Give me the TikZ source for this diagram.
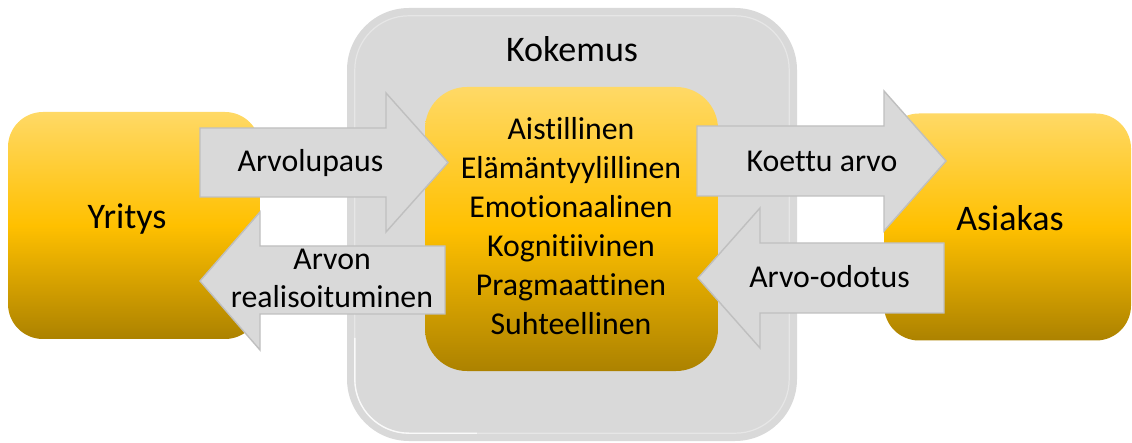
\documentclass[tikz,border=0pt]{standalone}
\usepackage{fontspec}
\setmainfont{Carlito}[Ligatures=NoCommon]
\definecolor{goldtop}{RGB}{255,217,102}
\definecolor{goldmid}{RGB}{255,192,0}
\definecolor{goldbot}{RGB}{172,130,0}
\definecolor{panel}{RGB}{217,217,217}
\definecolor{arrowfill}{RGB}{217,217,217}
\definecolor{arrowline}{RGB}{191,191,191}
\pgfdeclareverticalshading{goldshade}{100bp}{color(0bp)=(goldbot); color(25bp)=(goldbot); color(50bp)=(goldmid); color(75bp)=(goldtop); color(100bp)=(goldtop)}
\tikzset{
  goldbox/.style={rectangle, shading=goldshade, draw=none, inner sep=0pt},
  panelbox/.style={rectangle, fill=panel, draw=none, rounded corners=62pt, inner sep=0pt},
  blockarrow/.style={fill=arrowfill, draw=arrowline, line width=1.4pt, line join=miter},
  bigtext/.style={font=\fontsize{36}{43}\selectfont, anchor=base},
  lbltext/.style={font=\fontsize{31.8}{39}\selectfont, anchor=base},
}
\begin{document}
\begin{tikzpicture}[x=1pt,y=-1pt]
\useasboundingbox (0,0) rectangle (1132,443);
% big panel
\node[panelbox, minimum width=450pt, minimum height=433pt] (panel) at (572,224.5) {};
\draw[white, opacity=0.35, line width=1.2pt, rounded corners=54pt]
  ([shift={(8,8)}]panel.north west) rectangle ([shift={(-8,-8)}]panel.south east);
\draw[white, opacity=0.8, line width=1.4pt, rounded corners=54pt]
  ([shift={(8,330)}]panel.north west) -- ([shift={(8,-8)}]panel.south west) -- ([shift={(130,-8)}]panel.south west);
\node[bigtext] (kokemus) at (572,62) {Kokemus};
% side boxes
\node[goldbox, rounded corners=35pt, minimum width=252pt, minimum height=227pt] (yritys) at (134,225.5) {};
\node[goldbox, rounded corners=35pt, minimum width=247pt, minimum height=227pt] (asiakas) at (1007.5,227) {};
\node[bigtext] (yritysT) at (127,229) {Yritys};
\node[bigtext] (asiakasT) at (1010,231) {Asiakas};
% inner box
\node[goldbox, rounded corners=42pt, minimum width=293pt, minimum height=284pt] (inner) at (571.5,229) {};
\node[lbltext] (l1) at (571,140) {Aistillinen};
\node[lbltext] (l2) at (571,179) {Elämäntyylillinen};
\node[lbltext] (l3) at (571,218) {Emotionaalinen};
\node[lbltext] (l4) at (571,257) {Kognitiivinen};
\node[lbltext] (l5) at (571,296) {Pragmaattinen};
\node[lbltext] (l6) at (571,335) {Suhteellinen};
% block arrows
\draw[blockarrow] (200,128) -- (386,128) -- (386,93) -- (448,162.5) -- (386,232) -- (386,197) -- (200,197) -- cycle;
\draw[blockarrow] (445,246) -- (260,246) -- (260,212) -- (200,281) -- (260,350) -- (260,314) -- (445,314) -- cycle;
\draw[blockarrow] (697,126) -- (884,126) -- (884,91) -- (946,161) -- (884,231) -- (884,196) -- (697,196) -- cycle;
\draw[blockarrow] (944,243) -- (760,243) -- (760,208) -- (698,278) -- (760,348) -- (760,313) -- (944,313) -- cycle;
\node[lbltext] (a1) at (310.5,172) {Arvolupaus};
\node[lbltext] (a2a) at (332,270) {Arvon};
\node[lbltext] (a2b) at (332,308) {realisoituminen};
\node[lbltext] (a3) at (822,172) {Koettu arvo};
\node[lbltext] (a4) at (829.5,288) {Arvo-odotus};
\end{tikzpicture}
\end{document}
